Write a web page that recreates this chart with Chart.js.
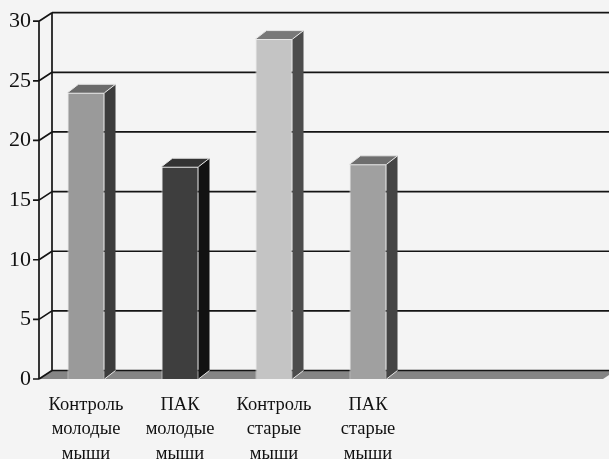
<!DOCTYPE html>
<html>
<head>
<meta charset="utf-8">
<script src="https://cdn.jsdelivr.net/npm/chart.js@4"></script>
<style>
  html, body { margin: 0; padding: 0; background: #f4f4f4; }
  canvas { display: block; }
</style>
</head>
<body>
<canvas id="myChart" width="609" height="459"></canvas>
<script>
// данные графика
const categories = [
    ['Контроль', 'молодые', 'мыши'],
    ['ПАК', 'молодые', 'мыши'],
    ['Контроль', 'старые', 'мыши'],
    ['ПАК', 'старые', 'мыши']
];
const values = [24.0, 17.8, 28.5, 18.0];
const yTicks = [0, 5, 10, 15, 20, 25, 30];

// цвета граней столбцов (перед / бок / верх)
const frontColors = ['#9a9a9a', '#3e3e3e', '#c4c4c4', '#a0a0a0'];
const sideColors = ['#3c3c3c', '#121212', '#4c4c4c', '#444444'];
const topColors = ['#6a6a6a', '#333333', '#787878', '#6e6e6e'];

const WX = 13, WY = -8.5;   // смещение задней стенки
const BX = 11, BY = -8.5;   // глубина столбцов

// псевдо-3D: пол, задняя стенка, сетка, грани столбцов
const depth3d = {
    id: 'depth3d',
    beforeDatasetsDraw(chart) {
        const { ctx, chartArea: a, scales: { y } } = chart;
        const y0 = y.getPixelForValue(0);
        const yTop = y.getPixelForValue(yTicks[yTicks.length - 1]);
        ctx.save();

        // пол
        ctx.fillStyle = '#858585';
        ctx.beginPath();
        ctx.moveTo(a.left, y0);
        ctx.lineTo(a.right, y0);
        ctx.lineTo(a.right + WX, y0 + WY);
        ctx.lineTo(a.left + WX, y0 + WY);
        ctx.closePath();
        ctx.fill();

        ctx.strokeStyle = '#141414';
        ctx.lineWidth = 1.7;
        ctx.beginPath();
        ctx.moveTo(a.left + WX, y0 + WY);
        ctx.lineTo(a.right + WX, y0 + WY);
        ctx.stroke();

        // линии сетки на задней стенке + диагонали к оси
        yTicks.forEach(v => {
            const py = y.getPixelForValue(v);
            ctx.beginPath();
            if (v > 0) {
                ctx.moveTo(a.left + WX, py + WY);
                ctx.lineTo(chart.width, py + WY);
            }
            ctx.moveTo(a.left, py);
            ctx.lineTo(a.left + WX, py + WY);
            ctx.moveTo(a.left - 6, py);
            ctx.lineTo(a.left, py);
            ctx.stroke();
        });

        // вертикали: задняя стенка и передняя ось
        ctx.beginPath();
        ctx.moveTo(a.left + WX, yTop + WY);
        ctx.lineTo(a.left + WX, y0 + WY);
        ctx.moveTo(a.left, yTop);
        ctx.lineTo(a.left, y0);
        ctx.stroke();
        ctx.restore();
    },
    afterDatasetsDraw(chart) {
        const { ctx } = chart;
        const meta = chart.getDatasetMeta(0);
        ctx.save();
        meta.data.forEach((bar, i) => {
            const p = bar.getProps(['x', 'y', 'base', 'width'], true);
            const l = p.x - p.width / 2, r = p.x + p.width / 2;
            const top = p.y, base = p.base;

            // боковая грань
            ctx.fillStyle = sideColors[i];
            ctx.beginPath();
            ctx.moveTo(r, top);
            ctx.lineTo(r + BX, top + BY);
            ctx.lineTo(r + BX, base + BY);
            ctx.lineTo(r, base);
            ctx.closePath();
            ctx.fill();

            // верхняя грань
            ctx.fillStyle = topColors[i];
            ctx.beginPath();
            ctx.moveTo(l, top);
            ctx.lineTo(l + BX, top + BY);
            ctx.lineTo(r + BX, top + BY);
            ctx.lineTo(r, top);
            ctx.closePath();
            ctx.fill();

            // светлые рёбра
            ctx.strokeStyle = '#e6e6e6';
            ctx.lineWidth = 1;
            ctx.beginPath();
            ctx.moveTo(l, top);
            ctx.lineTo(l + BX, top + BY);
            ctx.lineTo(r + BX, top + BY);
            ctx.moveTo(r, top);
            ctx.lineTo(r + BX, top + BY);
            ctx.moveTo(r, base);
            ctx.lineTo(r + BX, base + BY);
            ctx.stroke();
        });
        ctx.restore();
    }
};

const ctx = document.getElementById('myChart').getContext('2d');
const myChart = new Chart(ctx, {
    type: 'bar',
    data: {
        labels: [...categories, '', ''], // две пустые категории справа
        datasets: [{
            data: values,
            backgroundColor: frontColors,
            borderColor: '#e6e6e6',
            borderWidth: 1,
            barPercentage: 0.394,
            categoryPercentage: 1
        }]
    },
    options: {
        responsive: false,
        animation: false,
        layout: { padding: { top: 20, right: 6, left: 0, bottom: 0 } },
        plugins: {
            legend: { display: false },
            tooltip: { enabled: false }
        },
        scales: {
            y: {
                min: 0,
                max: 30,
                afterBuildTicks: s => { s.ticks = yTicks.map(v => ({ value: v })); },
                afterFit: s => { s.width = 39; },
                grid: { display: false, drawTicks: false },
                border: { display: false },
                ticks: {
                    padding: 8,
                    color: '#111',
                    font: { family: 'Liberation Serif', size: 22 }
                }
            },
            x: {
                afterFit: s => { s.height = 80; },
                grid: { display: false, drawTicks: false },
                border: { display: false },
                ticks: {
                    padding: 14,
                    maxRotation: 0,
                    autoSkip: false,
                    color: '#111',
                    font: { family: 'Liberation Serif', size: 18.5, lineHeight: 1.32 }
                }
            }
        }
    },
    plugins: [depth3d]
});
</script>
</body>
</html>
